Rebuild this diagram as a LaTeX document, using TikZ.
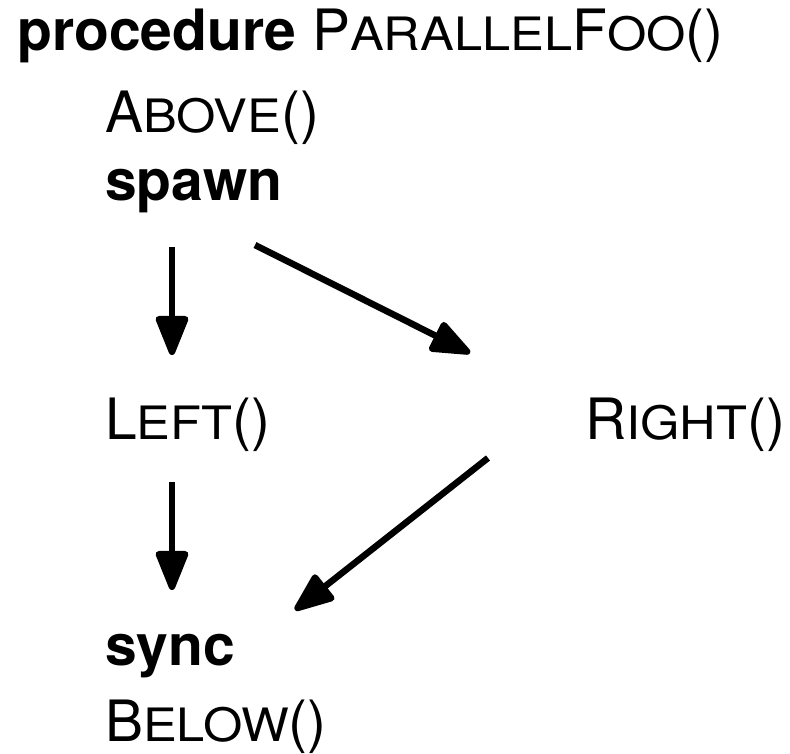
\documentclass[tikz,border=0pt]{standalone}
\usepackage{fontspec}
\setmainfont{TeX Gyre Heros}
\newfontfamily\capsfont[FakeStretch=1.1]{TeX Gyre Heros}
\usetikzlibrary{arrows.meta}

% caps-and-small-caps names: first letter full size, rest smaller
\newcommand{\procname}[2]{#1{\capsfont\fontsize{46}{55}\selectfont #2}}

\tikzset{
  code/.style={anchor=base west, inner sep=0pt, font=\fontsize{57}{68}\selectfont},
  flow/.style={-{Triangle[length=45pt,width=34pt,round]}, line width=6.5pt},
}

\begin{document}
\begin{tikzpicture}[x=1pt, y=-1pt]
    \useasboundingbox (0,0) rectangle (790,753);

    % Pseudocode lines
    \node[code] (proc) at (17,50) {\textbf{procedure} \procname{P}{ARALLEL}\procname{F}{OO}()};
    \node[code] (above) at (105,132) {\procname{A}{BOVE}()};
    \node[code] (spawn) at (105,200) {\textbf{spawn}};
    \node[code] (left) at (105,439) {\procname{L}{EFT}()};
    \node[code] (right) at (585,439) {\procname{R}{IGHT}()};
    \node[code] (sync) at (105,665) {\textbf{sync}};
    \node[code] (below) at (105,741) {\procname{B}{ELOW}()};

    % Arrow end points
    \coordinate (spawnL) at (172,247);
    \coordinate (spawnR) at (255,245);
    \coordinate (leftIn) at (172,355);
    \coordinate (rightIn) at (470,353);
    \coordinate (leftOut) at (172,482);
    \coordinate (rightOut) at (488,458);
    \coordinate (syncL) at (172,590);
    \coordinate (syncR) at (295,610);

    % Arrows
    \draw[flow] (spawnL) -- (leftIn);
    \draw[flow] (spawnR) -- (rightIn);
    \draw[flow] (leftOut) -- (syncL);
    \draw[flow] (rightOut) -- (syncR);
\end{tikzpicture}
\end{document}
